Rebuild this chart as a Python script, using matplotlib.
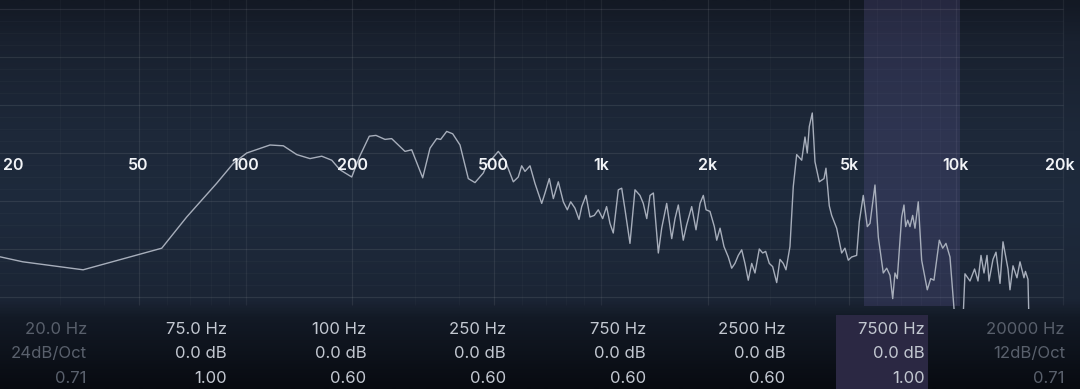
import numpy as np
import matplotlib
matplotlib.use('Agg')
import matplotlib.pyplot as plt
from matplotlib.colors import LinearSegmentedColormap

plt.rcParams['font.family'] = ['Inter', 'DejaVu Sans']

# spectrum trace (Hz, dB)
freqs = [20, 23.6, 34.9, 58.1, 68.3, 82.9, 92.4, 100.8, 117.2,
         127.8, 139.4, 151.9, 163.9, 174.9, 184.5, 199.1, 209.2, 223.1, 233.0,
         247.0, 257.9, 281.2, 293.7, 315.4, 330.7, 345.4, 354.4, 368.5, 383.1,
         401.7, 423.9, 442.7, 467.2,
         477.6, 514.9, 537.8, 567.5, 586.1, 599.2, 612.2, 632.4, 653.1, 682.2,
         697.0, 716.7, 735.7, 759.7, 784.8, 805.4, 823.3, 846.5, 868.8, 884.2,
         909.1, 933.0, 959.4, 984.5, 1013, 1039, 1062,
         1085, 1121, 1146, 1171, 1209, 1249, 1290, 1318, 1348, 1377, 1407,
         1453, 1485, 1534, 1585, 1619, 1654, 1708, 1746, 1804, 1855, 1904,
         1945, 1980, 2031, 2089, 2122, 2168, 2224,
         2287, 2338, 2388, 2440, 2495, 2548, 2603, 2662, 2719, 2796, 2858,
         2914, 2983, 3049, 3130, 3197, 3266, 3324, 3411, 3485, 3563, 3681,
         3760, 3816, 3866, 3942, 4012, 4125, 4253, 4308, 4401, 4470, 4617,
         4769, 4872, 4978, 5088, 5256, 5346, 5486, 5631, 5731, 5919, 6047,
         6246, 6386, 6524, 6640, 6738, 6839, 7037, 7143, 7222, 7316, 7426,
         7557, 7671, 7836, 8011, 8308, 8494, 8676, 8982, 9181, 9378, 9625,
         9942, 10471, 10607, 10957, 11289, 11541, 11769, 12000, 12237, 12396,
         12720, 12971, 13313, 13573, 14020, 14202, 14483, 14859, 15153, 15548,
         15699, 15958, 16061]
levels = [-12.9, -13.6, -14.6, -11.9, -8.0, -3.8, -1.3, 0.0, 1.0,
          0.9, -0.2, -0.7, -0.4, -0.9, -2.1, -3.0, -0.5, 2.1, 2.2,
          1.7, 1.8, 0.2, 0.4, -3.1, 0.6, 1.8, 1.7, 2.7, 2.4,
          1.0, -3.2, -3.7, -2.5,
          -1.5, 0.2, -0.9, -3.6, -3.0, -1.6, -2.3, -1.6, -3.8, -6.3,
          -5.0, -3.2, -5.7, -3.6, -6.1, -7.1, -6.1, -6.9, -8.3, -6.7,
          -5.3, -8.0, -7.8, -7.1, -8.2, -6.7, -8.8,
          -10.0, -4.6, -4.4, -7.1, -11.3, -4.6, -5.3, -6.3, -8.2, -5.3, -5.0,
          -12.5, -9.4, -6.3, -10.7, -8.2, -6.5, -10.9, -9.0, -6.7, -9.6, -6.3,
          -5.3, -7.1, -7.3, -9.2, -10.9, -9.4, -11.7,
          -13.0, -14.4, -13.8, -12.8, -12.1, -13.8, -15.9, -13.8, -15.0, -12.0, -12.5,
          -12.3, -13.8, -14.2, -16.2, -13.3, -13.8, -14.6, -11.7, -4.2, -0.2, -0.9,
          2.0, 0.0, 3.3, 5.0, -1.1, -3.6, -3.2, -1.9, -6.6, -7.8, -9.4,
          -12.5, -11.9, -13.4, -13.0, -12.8, -8.6, -5.3, -9.2, -8.8, -4.0, -10.5,
          -15.0, -14.4, -15.3, -18.2, -15.0, -15.7, -8.0, -6.5, -9.2, -8.4, -9.2,
          -7.8, -9.4, -6.1, -13.4, -17.1, -15.7, -15.9, -10.9, -11.9, -11.3, -13.0,
          -21.0, -21.0, -15.1, -16.0, -14.5, -16.0, -12.8, -15.0, -12.8, -16.0,
          -13.3, -12.4, -16.3, -11.1, -14.5, -17.1, -14.1, -15.6, -13.6, -15.6,
          -14.8, -15.8, -21.0]

grid_freqs = [20, 50, 100, 200, 500, 1000, 2000, 5000, 10000, 20000]
grid_labels = ['20', '50', '100', '200', '500', '1k', '2k', '5k', '10k', '20k']
grid_db = [18, 12, 6, 0, -6, -12, -18]
band = (5510, 10270)

# filter bands table under the graph
band_freq = ['20.0 Hz', '75.0 Hz', '100 Hz', '250 Hz', '750 Hz', '2500 Hz', '7500 Hz', '20000 Hz']
band_gain = ['24dB/Oct', '0.0 dB', '0.0 dB', '0.0 dB', '0.0 dB', '0.0 dB', '0.0 dB', '12dB/Oct']
band_q = ['0.71', '1.00', '0.60', '0.60', '0.60', '0.60', '1.00', '0.71']
band_active = [False, True, True, True, True, True, True, False]

W, H = 1080, 389
fig = plt.figure(figsize=(W / 100, H / 100), dpi=100)

# background gradient
bg = fig.add_axes([0, 0, 1, 1])
stops = [(0, '#131924'), (40 / H, '#19212f'), (130 / H, '#1d2839'), (210 / H, '#1e2a3c'),
         (300 / H, '#1b2535'), (318 / H, '#131a26'), (1, '#080b11')]
cmap = LinearSegmentedColormap.from_list('bg', stops)
bg.imshow(np.linspace(0, 1, H).reshape(-1, 1), aspect='auto', cmap=cmap,
          extent=[0, W, H, 0], interpolation='bilinear')
bg.set_xlim(0, W)
bg.set_ylim(H, 0)
bg.axis('off')

# highlight behind the selected band column
col_right = [87 + 139.7 * i for i in range(len(band_freq))]
bg.add_patch(plt.Rectangle((836, 315), 92, H - 315, color='#2b2843', lw=0))

for i in range(len(band_freq)):
    c = '#c3c8d1' if band_active[i] else '#59606c'
    for txt, y in zip([band_freq[i], band_gain[i], band_q[i]], [329, 354, 378.5]):
        bg.text(col_right[i], y, txt, ha='right', va='center', color=c, fontsize=12)

# graph area
top_px = 309
ax = fig.add_axes([0, (H - top_px) / H, 1, top_px / H])
ax.set_facecolor('none')
ax.set_xscale('log')
ax.set_xlim(20.36, 22360)
ax.set_ylim((153 - top_px) / 8, 153 / 8)
ax.axis('off')

# minor grid
minor = [m * d for d in [10, 100, 1000, 10000] for m in range(2, 10) if 20 < m * d < 20000]
ax.vlines(minor, -19.0, 19.2, color='#ffffff', alpha=0.022, lw=0.8)
ax.hlines(np.arange(-18, 19.5, 1.5), 20, 20000, color='#ffffff', alpha=0.022, lw=0.8)
# major grid
ax.vlines(grid_freqs, -19.0, 19.2, color='#ffffff', alpha=0.06, lw=0.9)
ax.hlines(grid_db, 20, 20000, color='#ffffff', alpha=0.065, lw=0.9)

ax.axvspan(band[0], band[1], ymin=0.01, color='#6e64aa', alpha=0.21, lw=0)

ax.plot(freqs, levels, color='#a7aebb', lw=1.0, solid_joinstyle='round')

for i, (f, lbl) in enumerate(zip(grid_freqs, grid_labels)):
    first = i == 0
    dx = 4.5 if first else (-2 if i == len(grid_freqs) - 1 else 0)
    ax.annotate(lbl, (f, -1.5), xytext=(dx, 0), textcoords='offset points',
                ha='left' if first else 'center', va='center', annotation_clip=False,
                color='#f2f4f7', fontsize=11.5, fontweight='semibold')

fig.savefig('out.png', dpi=100)
